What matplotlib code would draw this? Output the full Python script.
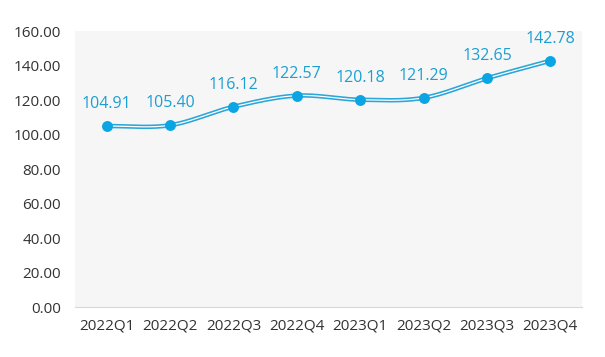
import numpy as np
import matplotlib
matplotlib.use("Agg")
import matplotlib.pyplot as plt

quarters = ["2022Q1", "2022Q2", "2022Q3", "2022Q4", "2023Q1", "2023Q2", "2023Q3", "2023Q4"]
values = [104.91, 105.40, 116.12, 122.57, 120.18, 121.29, 132.65, 142.78]
y_ticks = [0, 20, 40, 60, 80, 100, 120, 140, 160]

LINE = "#2aa6d8"
DOT = "#0ba5e4"
LABEL = "#1b9fd3"


def smooth(x, y, steps=40):
    """Catmull-Rom curve through the points, only for drawing the line"""
    x = np.asarray(x, float)
    y = np.asarray(y, float)
    px = np.concatenate([[2 * x[0] - x[1]], x, [2 * x[-1] - x[-2]]])
    py = np.concatenate([[2 * y[0] - y[1]], y, [2 * y[-1] - y[-2]]])
    xs, ys = [], []
    t = np.linspace(0, 1, steps)
    for i in range(1, len(px) - 2):
        for p, out in ((px, xs), (py, ys)):
            p0, p1, p2, p3 = p[i - 1], p[i], p[i + 1], p[i + 2]
            m1 = (p2 - p0) / 2
            m2 = (p3 - p1) / 2
            h00 = 2 * t**3 - 3 * t**2 + 1
            h10 = t**3 - 2 * t**2 + t
            h01 = -2 * t**3 + 3 * t**2
            h11 = t**3 - t**2
            out.extend(h00 * p1 + h10 * m1 + h01 * p2 + h11 * m2)
    return np.array(xs), np.array(ys)


plt.rcParams["font.family"] = ["Open Sans", "DejaVu Sans"]

fig = plt.figure(figsize=(6.05, 3.57), dpi=100)
ax = fig.add_axes([0.124, 0.14, 0.838, 0.773])
ax.set_facecolor("#f6f6f6")

x = np.arange(len(quarters))
sx, sy = smooth(x, values)
ax.plot(sx, sy, color=LINE, lw=3.2, solid_capstyle="round", zorder=2)
ax.plot(sx, sy, color="white", lw=0.9, zorder=3)
ax.scatter(x, values, s=62, color=DOT, zorder=4, linewidths=0)

for xi, v in zip(x, values):
    ax.annotate(f"{v:.2f}", (xi, v), xytext=(0, 10), textcoords="offset points",
                ha="center", va="bottom", color=LABEL, fontsize=11.5)

ax.set_xlim(-0.5, len(quarters) - 0.5)
ax.set_ylim(0, 160)
ax.set_xticks(x)
ax.set_xticklabels(quarters)
ax.set_yticks(y_ticks)
ax.set_yticklabels([f"{t:.2f}" for t in y_ticks])
ax.tick_params(axis="both", length=0, labelsize=11, colors="#333333")
ax.tick_params(axis="x", pad=8)
ax.tick_params(axis="y", pad=10)

for side in ["top", "right", "left"]:
    ax.spines[side].set_visible(False)
ax.spines["bottom"].set_color("#d9d9d9")

fig.savefig("out.png", dpi=100, facecolor="white")
